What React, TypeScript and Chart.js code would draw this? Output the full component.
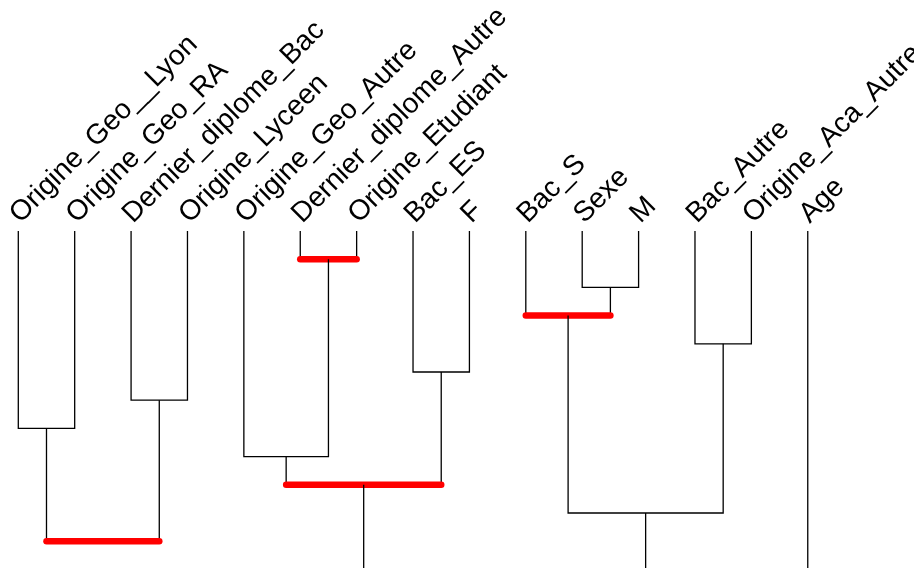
import React, { useEffect, useRef } from "react";
import { Chart, registerables } from "chart.js";

Chart.register(...registerables);

// Leaves (left to right)
const leafNames = [
  "Origine_Geo__Lyon",
  "Origine_Geo_RA",
  "Dernier_diplome_Bac",
  "Origine_Lyceen",
  "Origine_Geo_Autre",
  "Dernier_diplome_Autre",
  "Origine_Etudiant",
  "Bac_ES",
  "F",
  "Bac_S",
  "Sexe",
  "M",
  "Bac_Autre",
  "Origine_Aca_Autre",
  "Age",
];

// R-style merge table: negative = leaf (1-based), positive = earlier merge (1-based)
const mergeLeft = [-6, -11, -10, -13, -8, -3, -1, -5, 8, 3, 7, 9, 12];
const mergeRight = [-7, -12, 2, -14, -9, -4, -2, 1, 5, 4, 6, 10, -15];
const mergeHeight = [1, 2, 3, 4, 5, 6, 7, 8, 9, 10, 11, 12, 13];
const mergeHighlighted = [true, false, true, false, false, false, false, false, true, false, true, false, false];

export default function App() {
  const canvasRef = useRef<HTMLCanvasElement | null>(null);

  useEffect(() => {
    const canvas = canvasRef.current;
    if (!canvas) return;

    const nodeX: number[] = [];
    const nodeH: number[] = [];
    const ref = (v: number) => (v < 0 ? { x: -v - 1, h: 0 } : { x: nodeX[v - 1], h: nodeH[v - 1] });

    const drawList: any[] = [];
    for (let i = 0; i < mergeLeft.length; i++) {
      const l = ref(mergeLeft[i]);
      const r = ref(mergeRight[i]);
      const h = mergeHeight[i];
      nodeX.push((l.x + r.x) / 2);
      nodeH.push(h);
      drawList.push({
        data: [
          { x: l.x, y: l.h },
          { x: l.x, y: h },
          { x: r.x, y: h },
          { x: r.x, y: r.h },
        ],
        borderColor: "#000000",
        borderWidth: 1.3,
        borderCapStyle: "butt",
      });
      if (mergeHighlighted[i]) {
        drawList.push({
          data: [
            { x: l.x, y: h },
            { x: r.x, y: h },
          ],
          borderColor: "#ff0000",
          borderWidth: 6.5,
          borderCapStyle: "round",
        });
      }
    }

    const datasets = drawList.map((d, i) => ({
      ...d,
      showLine: true,
      pointRadius: 0,
      pointHoverRadius: 0,
      fill: false,
      tension: 0,
      order: drawList.length - i,
    }));

    const labelPlugin = {
      id: "leafLabels",
      afterDatasetsDraw(chart: any) {
        const ctx = chart.ctx;
        const xs = chart.scales.x;
        const ys = chart.scales.y;
        ctx.save();
        ctx.fillStyle = "#000000";
        ctx.font = '28.3px "Liberation Sans", Arial, sans-serif';
        ctx.textAlign = "left";
        ctx.textBaseline = "alphabetic";
        leafNames.forEach((name, i) => {
          const px = xs.getPixelForValue(i);
          const py = ys.getPixelForValue(0);
          ctx.save();
          ctx.translate(px + 2, py - 7);
          ctx.rotate(-Math.PI / 4);
          ctx.fillText(name, 0, 0);
          ctx.restore();
        });
        ctx.restore();
      },
    };

    const chart = new Chart(canvas, {
      type: "scatter",
      data: { datasets },
      options: {
        animation: false,
        responsive: false,
        maintainAspectRatio: false,
        layout: { padding: 0 },
        plugins: { legend: { display: false }, tooltip: { enabled: false } },
        events: [],
        scales: {
          x: { type: "linear", display: false, min: -0.3245, max: 15.884 },
          y: { type: "linear", display: false, reverse: true, min: -8.191, max: 11.95 },
        },
      },
      plugins: [labelPlugin],
    } as any);

    return () => chart.destroy();
  }, []);

  return (
    <div style={{ position: "absolute", left: 0, top: 0, width: 914, height: 568, background: "#fff" }}>
      <canvas ref={canvasRef} width={914} height={568} style={{ display: "block", width: 914, height: 568 }} />
    </div>
  );
}
